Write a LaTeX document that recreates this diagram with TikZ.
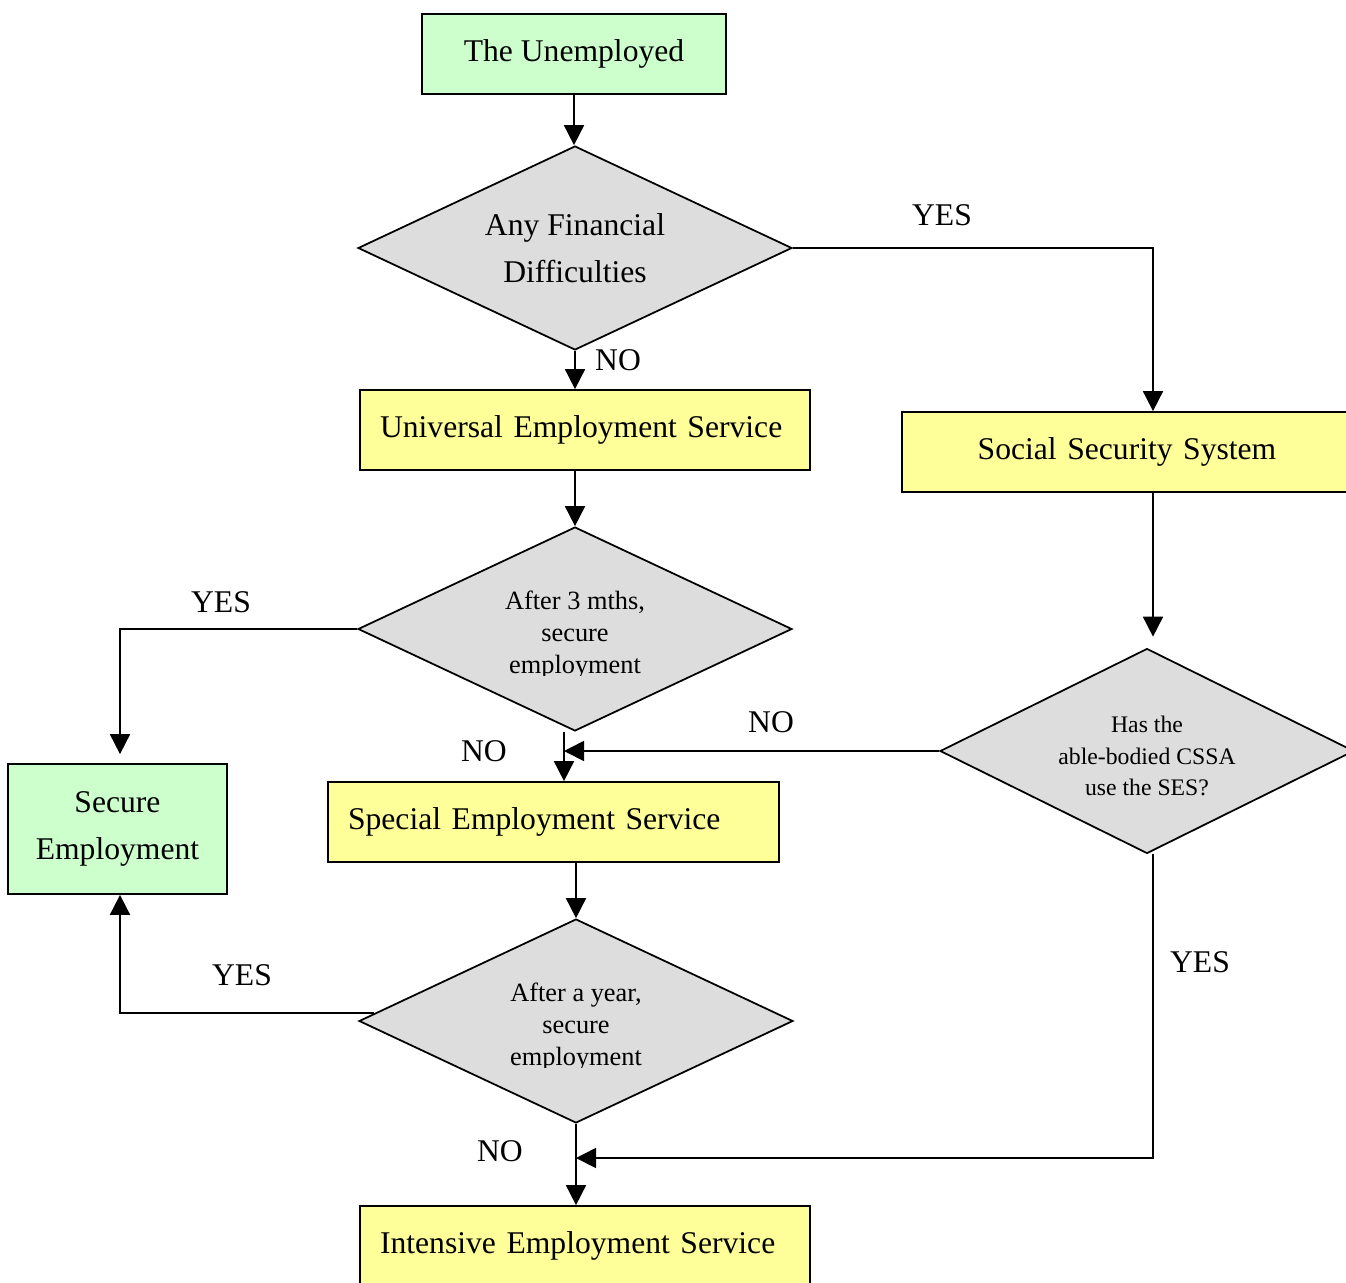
\documentclass[tikz,border=0pt]{standalone}
\usepackage{fontspec}
\setmainfont{Liberation Serif}
\usetikzlibrary{shapes.geometric,arrows.meta}
\definecolor{boxgreen}{HTML}{CCFFCC}
\definecolor{boxyellow}{HTML}{FFFF99}
\definecolor{boxgray}{HTML}{DDDDDD}
\tikzset{
  greenbox/.style={draw,line width=1pt,fill=boxgreen,align=center,inner sep=0pt,font=\fontsize{18}{27}\selectfont},
  servicebox/.style={draw,line width=1pt,fill=boxyellow,inner xsep=0.4cm,inner ysep=0pt,minimum height=1.6cm,text width=8.2cm,align=left,font=\fontsize{18}{27}\selectfont},
  question/.style={diamond,aspect=2.13,draw,line width=1pt,fill=boxgray,inner sep=0pt,minimum width=8.68cm,minimum height=4.08cm},
  asktext/.style={align=center,inner sep=0pt,font=\fontsize{15}{18}\selectfont},
  flow/.style={line width=1pt,-{Triangle[length=0.4cm,width=0.4cm]}},
  answer/.style={font=\fontsize{18}{22}\selectfont}
}
\begin{document}
\begin{tikzpicture}[x=0.02cm,y=-0.02cm]
\useasboundingbox (0,0) rectangle (1346,1282);
\node[greenbox,minimum width=6.08cm,minimum height=1.6cm] (unemp) at (574,54) {The Unemployed};
\node[question,align=center,font=\fontsize{18}{27}\selectfont] (fin) at (575,248) {Any Financial\\Difficulties};
\node[servicebox] (ues) at (585,430) {Universal Employment Service};
\node[servicebox,align=center] (sss) at (1127,452) {Social Security System};
\node[question] (three) at (575,629) {};
\node[question,minimum width=8.28cm,minimum height=4.1cm] (cssa) at (1147,751) {};
\node[asktext,font=\fontsize{13.5}{18}\selectfont] (cssatext) at (1147,756) {Has the\\able-bodied CSSA\\use the SES?};
\node[greenbox,minimum width=4.38cm,minimum height=2.6cm] (secure) at (117.5,829) {Secure\\Employment};
\node[servicebox,text width=8.22cm] (ses) at (553.5,822) {Special Employment Service};
\node[question] (year) at (576,1021) {};
\node[servicebox] (ies) at (585,1246) {Intensive Employment Service};
\begin{scope}
\clip (300,560) rectangle (850,675);
\node[asktext] (threetext) at (575,635) {After 3 mths,\\secure\\employment};
\end{scope}
\begin{scope}
\clip (300,950) rectangle (850,1067);
\node[asktext] (yeartext) at (576,1027) {After a year,\\secure\\employment};
\end{scope}
\coordinate (rightline) at (1153,0);
\coordinate (midline) at (564,0);
\coordinate (leftline) at (120,0);
\coordinate (merge) at (576,1158);
\coordinate (yearexit) at ([shift={(16,-8)}]year.west);
\draw[flow] (unemp.south) -- (unemp.south |- fin.north);
\draw[flow] (fin.east) -| (rightline |- sss.north);
\draw[flow] (fin.south) -- (fin.south |- ues.north);
\draw[flow] (three.north |- ues.south) -- (three.north);
\draw[flow,shorten >=0.18cm] (three.west) -| (leftline |- secure.north);
\draw[flow] (three.south -| midline) -- (midline |- ses.north);
\draw[flow] (cssa.west) -- (cssa.west -| midline);
\draw[flow,shorten >=0.22cm] (sss.south -| rightline) -- (rightline |- cssa.north);
\draw[flow] (year.north |- ses.south) -- (year.north);
\draw[flow] (yearexit) -| (leftline |- secure.south);
\draw[flow] (year.south) -- (year.south |- ies.north);
\draw[flow] (cssa.south -| rightline) |- (merge);
\node[answer] (finyes) at (942,215) {YES};
\node[answer] (finno) at (618,360) {NO};
\node[answer] (threeyes) at (221,602) {YES};
\node[answer] (threeno) at (484,751) {NO};
\node[answer] (cssano) at (771,722) {NO};
\node[answer] (yearyes) at (242,975) {YES};
\node[answer] (yearno) at (500,1151) {NO};
\node[answer] (cssayes) at (1200,962) {YES};
\end{tikzpicture}
\end{document}
